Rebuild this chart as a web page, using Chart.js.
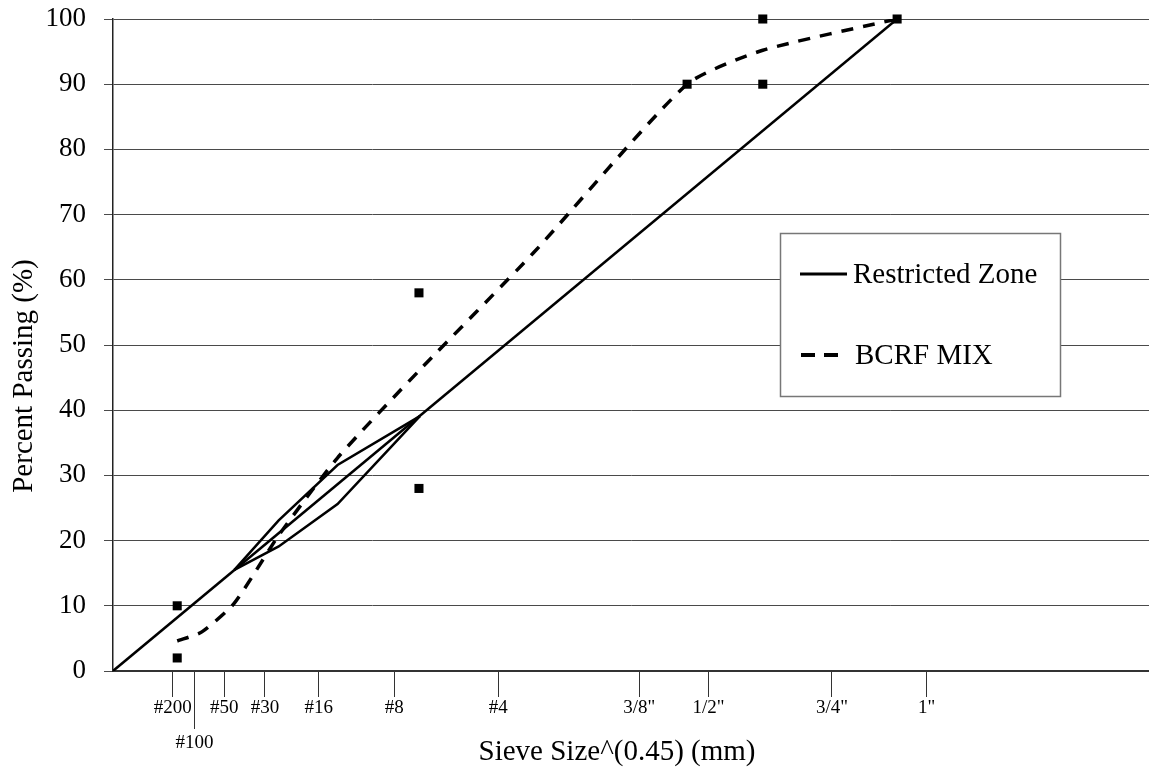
<!DOCTYPE html>
<html>
<head>
<meta charset="utf-8">
<script src="https://cdn.jsdelivr.net/npm/chart.js@4.4.1/dist/chart.umd.min.js"></script>
<style>
  body { margin: 0; background: #fff; }
  canvas { display: block; }
</style>
</head>
<body>
<canvas id="grafico" width="1149" height="769"></canvas>
<script>
// sieve ticks, x = size^0.45
const sieveTicks = [0.312, 0.426, 0.582, 0.795, 1.077, 1.472, 2.016, 2.754, 3.116, 3.762, 4.257];
const sieveLabels = ['#200', '#100', '#50', '#30', '#16', '#8', '#4', '3/8"', '1/2"', '3/4"', '1"'];

const maxDensityX = [0, 4.103];
const maxDensityY = [0, 100];

const zoneX = [0.635, 0.867, 1.175, 1.606];
const zoneUpperY = [15.5, 23.1, 31.6, 39.1];
const zoneLowerY = [15.5, 19.1, 25.6, 39.1];

const mixX = [0.336, 0.465, 0.635, 0.867, 1.175, 1.606, 2.199, 3.004, 3.400, 4.103];
const mixY = [4.6, 6.0, 10.4, 20.8, 32.7, 46.2, 64.1, 90, 95.2, 100];

const controlX = [0.336, 0.336, 1.601, 1.601, 3.004, 3.400, 3.400, 4.103];
const controlY = [2, 10, 28, 58, 90, 90, 100, 100];

const fuente = '"Liberation Serif", "Times New Roman", serif';

function puntos(xs, ys) {
    return xs.map((x, i) => ({ x: x, y: ys[i] }));
}

const extras = {
    id: 'extras',
    afterDraw(chart) {
        const ctx = chart.ctx;
        const xs = chart.scales.x;
        const base = chart.chartArea.bottom;

        // longer tick under #100
        const px = Math.round(xs.getPixelForValue(sieveTicks[1])) + 0.5;
        ctx.save();
        ctx.strokeStyle = '#333';
        ctx.lineWidth = 1;
        ctx.beginPath();
        ctx.moveTo(px, base + 26);
        ctx.lineTo(px, base + 58);
        ctx.stroke();

        // axis titles
        ctx.fillStyle = '#000';
        ctx.font = '29px ' + fuente;
        ctx.textAlign = 'center';
        ctx.textBaseline = 'middle';
        ctx.fillText('Sieve Size^(0.45) (mm)', 617, 752);
        ctx.translate(24, 376);
        ctx.rotate(-Math.PI / 2);
        ctx.fillText('Percent Passing (%)', 0, 0);
        ctx.restore();

        // legend box
        ctx.save();
        ctx.fillStyle = '#fff';
        ctx.fillRect(780, 233, 280, 163);
        ctx.strokeStyle = '#777';
        ctx.lineWidth = 1.5;
        ctx.strokeRect(780.5, 233.5, 280, 163);

        ctx.strokeStyle = '#000';
        ctx.lineWidth = 3;
        ctx.beginPath();
        ctx.moveTo(800, 274);
        ctx.lineTo(847, 274);
        ctx.stroke();

        ctx.lineWidth = 4;
        ctx.setLineDash([14, 9]);
        ctx.beginPath();
        ctx.moveTo(801, 355);
        ctx.lineTo(838, 355);
        ctx.stroke();
        ctx.setLineDash([]);

        ctx.fillStyle = '#000';
        ctx.font = '29px ' + fuente;
        ctx.textAlign = 'left';
        ctx.textBaseline = 'middle';
        ctx.fillText(chart.data.datasets[1].label, 853, 275);
        ctx.fillText(chart.data.datasets[3].label, 855, 356);
        ctx.restore();
    }
};

const ctx = document.getElementById('grafico').getContext('2d');

new Chart(ctx, {
    type: 'scatter',
    data: {
        datasets: [
            {
                label: 'Max Density',
                data: puntos(maxDensityX, maxDensityY),
                showLine: true,
                borderColor: '#000',
                borderWidth: 2.5,
                pointRadius: 0
            },
            {
                label: 'Restricted Zone',
                data: puntos(zoneX, zoneUpperY),
                showLine: true,
                borderColor: '#000',
                borderWidth: 2.5,
                pointRadius: 0
            },
            {
                label: 'Restricted Zone lower',
                data: puntos(zoneX, zoneLowerY),
                showLine: true,
                borderColor: '#000',
                borderWidth: 2.5,
                pointRadius: 0
            },
            {
                label: 'BCRF MIX',
                data: puntos(mixX, mixY),
                showLine: true,
                borderColor: '#000',
                borderWidth: 3.5,
                borderDash: [12, 10],
                borderCapStyle: 'butt',
                tension: 0.2,
                pointRadius: 0
            },
            {
                label: 'Control Points',
                data: puntos(controlX, controlY),
                showLine: false,
                pointStyle: 'rect',
                pointRadius: 6.4,
                pointBackgroundColor: '#000',
                pointBorderWidth: 0,
                clip: false
            }
        ]
    },
    options: {
        responsive: false,
        animation: false,
        devicePixelRatio: 1,
        layout: { autoPadding: false, padding: { top: 19, right: 0, left: 0, bottom: 0 } },
        plugins: {
            legend: { display: false },
            tooltip: { enabled: false }
        },
        scales: {
            x: {
                type: 'linear',
                min: 0,
                max: 5.421,
                afterBuildTicks: (axis) => {
                    axis.ticks = sieveTicks.map(v => ({ value: v }));
                },
                afterFit: (axis) => {
                    axis.height = 98;
                    axis.paddingLeft = 0;
                    axis.paddingRight = 0;
                },
                grid: {
                    display: true,
                    drawOnChartArea: false,
                    drawTicks: true,
                    tickLength: 26,
                    color: '#333',
                    lineWidth: 1
                },
                border: { display: true, color: '#333', width: 2 },
                ticks: {
                    autoSkip: false,
                    maxRotation: 0,
                    minRotation: 0,
                    padding: 0,
                    color: '#000',
                    font: (c) => ({ family: fuente, size: 19, lineHeight: c.index === 1 ? 1.6 : 1.2 }),
                    callback: (value, index) => index === 1 ? ['', sieveLabels[index]] : sieveLabels[index]
                }
            },
            y: {
                min: 0,
                max: 100,
                afterFit: (axis) => {
                    axis.width = 113;
                    axis.paddingTop = 0;
                    axis.paddingBottom = 0;
                },
                grid: {
                    color: '#4a4a4a',
                    lineWidth: 1,
                    tickLength: 9
                },
                border: { display: true, color: '#222', width: 1.5 },
                ticks: {
                    stepSize: 10,
                    padding: 18,
                    color: '#000',
                    font: { family: fuente, size: 27 }
                }
            }
        }
    },
    plugins: [extras]
});
</script>
</body>
</html>
